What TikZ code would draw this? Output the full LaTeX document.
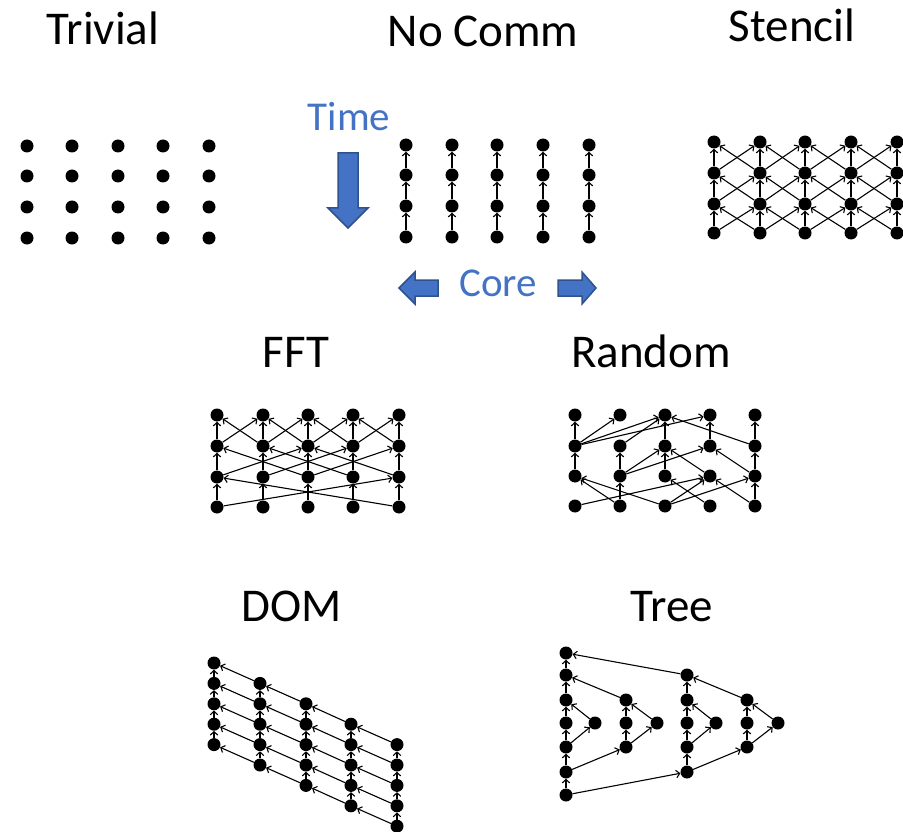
\documentclass[tikz,border=0pt]{standalone}
\usepackage{fontspec}
\setmainfont{Carlito}
\usetikzlibrary{arrows.meta}
\definecolor{offblue}{HTML}{4472C4}
\definecolor{offdark}{HTML}{2F528F}
\begin{document}
\begin{tikzpicture}[x=1pt,y=-1pt,
 dot/.style={circle,fill=black,inner sep=0pt,minimum size=13pt},
 ar/.style={line width=1.1pt,-{Straight Barb[length=3.5pt,width=7.5pt]}},
 ttl/.style={anchor=base,font=\fontsize{47}{51}\selectfont,inner sep=0pt},
 bl/.style={anchor=base,font=\fontsize{41}{45}\selectfont,text=offblue,inner sep=0pt},
 barrow/.style={fill=offblue,draw=offdark,line width=1.5pt,line join=miter}]
\useasboundingbox (0,0) rectangle (903,832);

% titles
\node[ttl] (tTrivial) at (103,45) {Trivial};
\node[ttl] (tNoComm) at (483,47) {No Comm};
\node[ttl] (tStencil) at (792,42) {Stencil};
\node[ttl] (tFFT) at (296,367) {FFT};
\node[ttl] (tRandom) at (651,367) {Random};
\node[ttl] (tDOM) at (292,621) {DOM};
\node[ttl] (tTree) at (672,621) {Tree};
\node[bl] (tTime) at (349,131) {Time};
\node[bl] (tCore) at (498,296) {Core};

% blue arrows
\draw[barrow] (338,153) -- (358,153) -- (358,208) -- (368,208) -- (348,228) -- (328,208) -- (338,208) -- cycle;
\draw[barrow] (399,288) -- (415,272) -- (415,280) -- (438,280) -- (438,296) -- (415,296) -- (415,304) -- cycle;
\draw[barrow] (596,288) -- (582,272) -- (582,280) -- (558,280) -- (558,296) -- (582,296) -- (582,304) -- cycle;

% Trivial
\foreach \x [count=\cc from 0] in {27,72,118,163,209}
 \foreach \y [count=\rw from 0] in {146,176,207,238}
  \node[dot] (t-\cc-\rw) at (\x,\y) {};

% No Comm
\foreach \x [count=\cc from 0] in {406,452,497,543,589}
 \foreach \y [count=\rw from 0] in {145,175,206,237}
  \node[dot] (n-\cc-\rw) at (\x,\y) {};
\foreach \cc in {0,...,4}
 \foreach \rw in {1,2,3} {
  \pgfmathtruncatemacro\pr{\rw-1}
  \draw[ar] (n-\cc-\rw) -- (n-\cc-\pr);
 }

% Stencil
\foreach \x [count=\cc from 0] in {714,760,805,851,897}
 \foreach \y [count=\rw from 0] in {142,173,204,233}
  \node[dot] (s-\cc-\rw) at (\x,\y) {};
\foreach \cc in {0,...,4}
 \foreach \rw in {1,2,3} {
  \pgfmathtruncatemacro\pr{\rw-1}
  \pgfmathtruncatemacro\lc{\cc-1}
  \pgfmathtruncatemacro\rc{\cc+1}
  \draw[ar] (s-\cc-\rw) -- (s-\cc-\pr);
  \ifnum\lc>-1 \draw[ar] (s-\cc-\rw) -- (s-\lc-\pr); \fi
  \ifnum\rc<5 \draw[ar] (s-\cc-\rw) -- (s-\rc-\pr); \fi
 }

% FFT
\foreach \x [count=\cc from 0] in {217,263,308,353,399}
 \foreach \y [count=\rw from 0] in {415,446,477,507}
  \node[dot] (f-\cc-\rw) at (\x,\y) {};
\foreach \rw/\d in {1/1,2/2,3/4}
 \foreach \cc in {0,...,4} {
  \pgfmathtruncatemacro\pr{\rw-1}
  \pgfmathtruncatemacro\lc{\cc-\d}
  \pgfmathtruncatemacro\rc{\cc+\d}
  \draw[ar] (f-\cc-\rw) -- (f-\cc-\pr);
  \ifnum\lc>-1 \draw[ar] (f-\cc-\rw) -- (f-\lc-\pr); \fi
  \ifnum\rc<5 \draw[ar] (f-\cc-\rw) -- (f-\rc-\pr); \fi
 }

% Random
\foreach \x [count=\cc from 0] in {575,620,665,710,755}
 \foreach \y [count=\rw from 0] in {415,446,476,506}
  \node[dot] (r-\cc-\rw) at (\x,\y) {};
\foreach \a/\b in {0-2/0-1,0-1/0-0,1-3/1-2,1-2/1-1,2-2/2-1,2-1/2-0,3-1/3-0,4-3/4-2,4-2/4-1,4-1/4-0,
  0-1/1-0,0-1/2-0,0-1/3-0,1-1/2-0,4-1/2-0,
  1-2/2-1,1-2/3-1,3-2/2-1,4-2/3-1,
  1-3/0-2,2-3/0-2,0-3/3-2,2-3/3-2,2-3/4-2,3-3/2-2,4-3/3-2}
  \draw[ar] (r-\a) -- (r-\b);

% DOM
\foreach \x [count=\cc from 0] in {214,260,306,351,397}
 \foreach \i in {0,...,4}
  \node[dot] (d-\cc-\i) at (\x,{663+(\cc+\i)*20.4}) {};
\foreach \cc in {0,...,4}
 \foreach \i in {1,...,4} {
  \pgfmathtruncatemacro\pr{\i-1}
  \draw[ar] (d-\cc-\i) -- (d-\cc-\pr);
 }
\foreach \cc in {1,...,4}
 \foreach \i in {0,...,4} {
  \pgfmathtruncatemacro\lc{\cc-1}
  \draw[ar] (d-\cc-\i) -- (d-\lc-\i);
 }

% Tree
\foreach \y [count=\i from 0] in {653,675,700,723,747,772,795}
  \node[dot] (g-\i) at (566,\y) {};
\node[dot] (gA) at (595,723) {};
\node[dot] (gB0) at (626,700) {};
\node[dot] (gB1) at (626,723) {};
\node[dot] (gB2) at (626,747) {};
\node[dot] (gC) at (657,723) {};
\node[dot] (gD0) at (687,675) {};
\node[dot] (gD1) at (687,700) {};
\node[dot] (gD2) at (687,723) {};
\node[dot] (gD3) at (687,747) {};
\node[dot] (gD4) at (687,772) {};
\node[dot] (gE) at (716,723) {};
\node[dot] (gF0) at (747,700) {};
\node[dot] (gF1) at (747,723) {};
\node[dot] (gF2) at (747,747) {};
\node[dot] (gG) at (778,723) {};
\foreach \a/\b in {g-1/g-0,g-2/g-1,g-3/g-2,g-4/g-3,g-5/g-4,g-6/g-5,
  g-6/gD4,gD0/g-0,g-5/gB2,gB0/g-1,g-4/gA,gA/g-2,
  gB2/gB1,gB1/gB0,gB2/gC,gC/gB0,
  gD4/gD3,gD3/gD2,gD2/gD1,gD1/gD0,gD4/gF2,gF0/gD0,gD3/gE,gE/gD1,
  gF2/gF1,gF1/gF0,gF2/gG,gG/gF0}
  \draw[ar] (\a) -- (\b);
\end{tikzpicture}
\end{document}
